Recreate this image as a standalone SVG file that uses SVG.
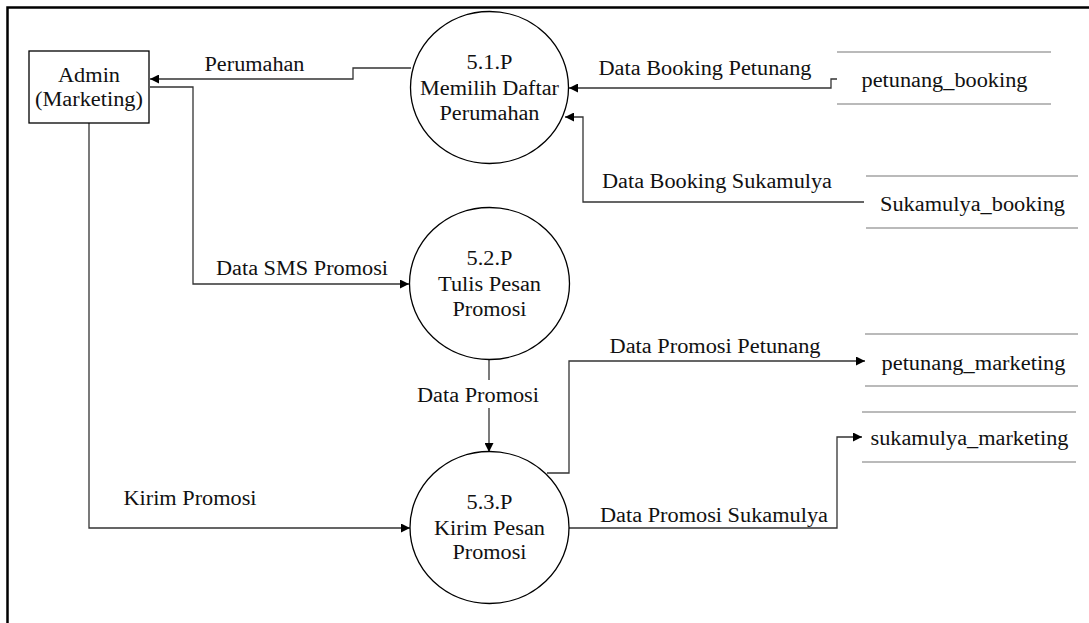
<svg xmlns="http://www.w3.org/2000/svg" width="1089" height="623" viewBox="0 0 1089 623">
<defs>
<marker id="arr" viewBox="0 0 10 10" refX="10" refY="5" markerWidth="10" markerHeight="9" markerUnits="userSpaceOnUse" orient="auto">
<path d="M0,0 L10,5 L0,10 Z" fill="#000"/>
</marker>
</defs>
<style>
text{font-family:"Liberation Serif","Times New Roman",serif;font-size:20px;fill:#111;text-anchor:middle}
.proc{fill:#fff;stroke:#000;stroke-width:1.3}
.ent{fill:#fff;stroke:#000;stroke-width:1.3}
.store{stroke:#777;stroke-width:1.2;fill:none}
.flow{fill:none;stroke:#333;stroke-width:1.3}
.frame{fill:none;stroke:#000;stroke-width:2.5}
</style>
<rect width="1089" height="623" fill="#fff"/>
<path class="frame" d="M7.5,623 V7.5 H1089"/>

<g id="connectors">
<path class="flow" d="M411,68 H353 V79 H150" marker-end="url(#arr)"/>
<path class="flow" d="M150,87 H193 V284 H409" marker-end="url(#arr)"/>
<path class="flow" d="M89,123 V528 H410" marker-end="url(#arr)"/>
<path class="flow" d="M837,79 H831 V88 H569" marker-end="url(#arr)"/>
<path class="flow" d="M864,202 H583 V117 H565" marker-end="url(#arr)"/>
<path class="flow" d="M489,359 V380"/>
<path class="flow" d="M489,408 V452" marker-end="url(#arr)"/>
<path class="flow" d="M547,473 H569 V361 H865" marker-end="url(#arr)"/>
<path class="flow" d="M569,528 H837 V437 H862" marker-end="url(#arr)"/>
<text x="254.5" y="71" textLength="100" lengthAdjust="spacingAndGlyphs">Perumahan</text>
<text x="302" y="275" textLength="172" lengthAdjust="spacingAndGlyphs">Data SMS Promosi</text>
<text x="190" y="505" textLength="133" lengthAdjust="spacingAndGlyphs">Kirim Promosi</text>
<text x="705" y="75" textLength="213" lengthAdjust="spacingAndGlyphs">Data Booking Petunang</text>
<text x="717" y="188" textLength="230" lengthAdjust="spacingAndGlyphs">Data Booking Sukamulya</text>
<text x="478" y="402" textLength="122" lengthAdjust="spacingAndGlyphs">Data Promosi</text>
<text x="715" y="353" textLength="211" lengthAdjust="spacingAndGlyphs">Data Promosi Petunang</text>
<text x="714" y="522" textLength="228" lengthAdjust="spacingAndGlyphs">Data Promosi Sukamulya</text>
</g>

<g id="admin">
<rect class="ent" x="29" y="51" width="120" height="72"/>
<text x="89" y="82" textLength="62" lengthAdjust="spacingAndGlyphs">Admin</text>
<text x="89" y="106" textLength="108" lengthAdjust="spacingAndGlyphs">(Marketing)</text>
</g>

<g id="p51">
<ellipse class="proc" cx="489.5" cy="87.5" rx="79" ry="76"/>
<text x="489.5" y="69" textLength="46" lengthAdjust="spacingAndGlyphs">5.1.P</text>
<text x="489.5" y="95" textLength="139" lengthAdjust="spacingAndGlyphs">Memilih Daftar</text>
<text x="489.5" y="120" textLength="100" lengthAdjust="spacingAndGlyphs">Perumahan</text>
</g>

<g id="p52">
<ellipse class="proc" cx="489.5" cy="283.5" rx="80" ry="76"/>
<text x="489.5" y="265" textLength="46" lengthAdjust="spacingAndGlyphs">5.2.P</text>
<text x="489.5" y="291" textLength="103" lengthAdjust="spacingAndGlyphs">Tulis Pesan</text>
<text x="489.5" y="316" textLength="74" lengthAdjust="spacingAndGlyphs">Promosi</text>
</g>

<g id="p53">
<ellipse class="proc" cx="489.5" cy="527.5" rx="79.5" ry="76"/>
<text x="489.5" y="509" textLength="46" lengthAdjust="spacingAndGlyphs">5.3.P</text>
<text x="489.5" y="535" textLength="111" lengthAdjust="spacingAndGlyphs">Kirim Pesan</text>
<text x="489.5" y="559" textLength="74" lengthAdjust="spacingAndGlyphs">Promosi</text>
</g>

<g id="petunang_booking">
<path class="store" d="M837,52 H1051 M837,104 H1051"/>
<text x="944.5" y="87" textLength="166" lengthAdjust="spacingAndGlyphs">petunang_booking</text>
</g>

<g id="sukamulya_booking">
<path class="store" d="M866,176 H1078 M866,228 H1078"/>
<text x="972.5" y="211" textLength="185" lengthAdjust="spacingAndGlyphs">Sukamulya_booking</text>
</g>

<g id="petunang_marketing">
<path class="store" d="M865,334 H1078 M865,386 H1078"/>
<text x="973.5" y="370" textLength="184" lengthAdjust="spacingAndGlyphs">petunang_marketing</text>
</g>

<g id="sukamulya_marketing">
<path class="store" d="M862,412 H1076 M862,462 H1076"/>
<text x="969.5" y="445" textLength="198" lengthAdjust="spacingAndGlyphs">sukamulya_marketing</text>
</g>
</svg>
